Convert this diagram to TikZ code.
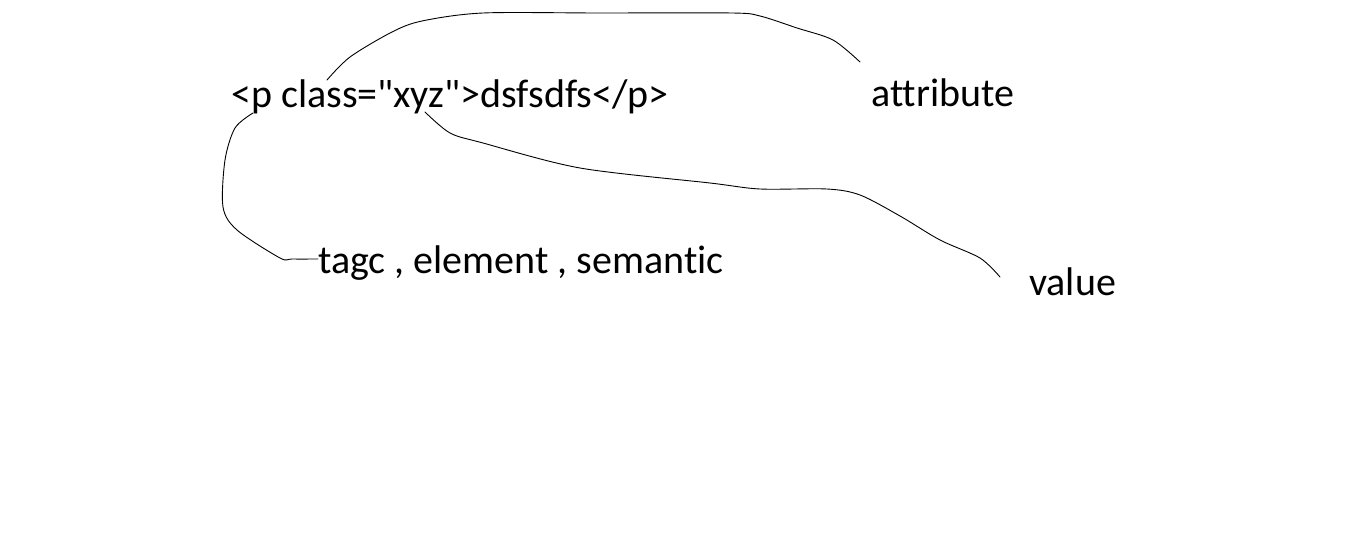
\documentclass[tikz,border=0pt]{standalone}
\usepackage{fontspec}
\setmainfont{Carlito}[Ligatures={TeXOff,NoCommon}]
\begin{document}
\begin{tikzpicture}[x=1pt,y=-1pt,
  lbl/.style={anchor=base west,inner sep=0pt,font=\fontsize{40}{46}\selectfont},
  conn/.style={draw=black,line width=0.9pt,line cap=round,line join=round}]
\useasboundingbox[fill=white] (0,0) rectangle (1350,559);
\node[lbl] (html) at (231,108) {<p class="xyz">dsfsdfs</p>};
\node[lbl] (attr) at (871,107) {attribute};
\node[lbl] (tag) at (318,273) {tagc , element , semantic};
\node[lbl] (val) at (1029,295) {value};
% attribute connector
\coordinate (aS) at (327,80);
\coordinate (aE) at (860,62);
\draw[conn] plot[smooth,tension=0.5] coordinates {(aS) (350,57) (392,32) (422,21) (483,13) (600,13) (732,13) (760,16) (797,28) (833,40) (aE)};
% value connector
\coordinate (vS) at (425,112);
\coordinate (vE) at (1000,277);
\draw[conn] plot[smooth,tension=0.5] coordinates {(vS) (450,133) (483,143) (580,168) (710,183) (760,189) (827,189) (860,195) (900,216) (940,240) (980,258) (vE)};
% tag connector
\coordinate (tS) at (253,113);
\coordinate (tE) at (tag.west |- 0,259);
\draw[conn] plot[smooth,tension=0.5] coordinates {(tS) (235,128) (225,160) (223,207) (237,230) (280,258) (292,259) (tE)};
\end{tikzpicture}
\end{document}
